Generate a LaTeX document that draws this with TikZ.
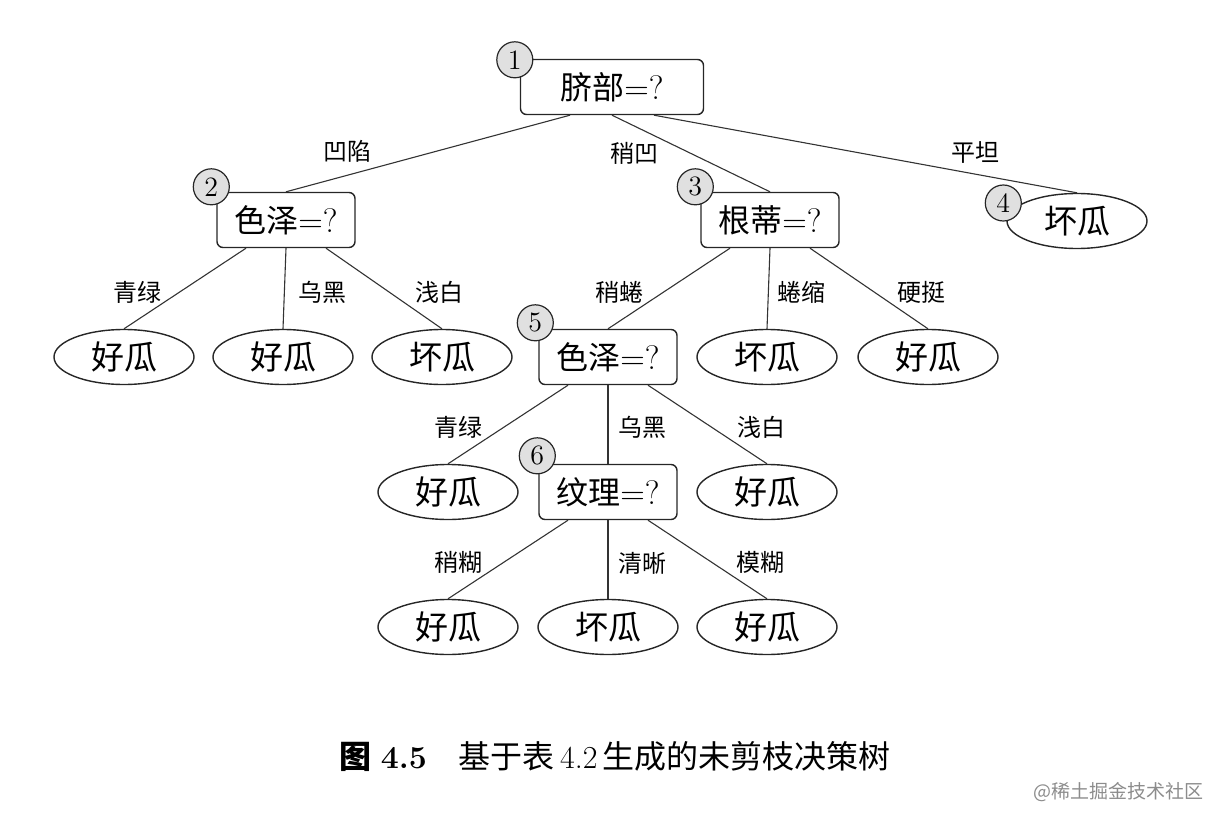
\documentclass[tikz,border=0pt]{standalone}
\usepackage{fontspec}
\newfontfamily\cjk{Noto Sans CJK SC}
\usepackage{tikz}
\usetikzlibrary{positioning, shapes.geometric, calc}

\begin{document}
\begin{tikzpicture}[
    x=0.5pt, y=-0.5pt,
    test/.style={draw=black!85, rounded corners=3pt, line width=0.7pt, minimum height=27.5pt, minimum width=69pt, inner sep=0pt, font=\fontsize{17}{18}\selectfont},
    leaf/.style={ellipse, draw=black!85, line width=0.7pt, minimum height=27.5pt, minimum width=70pt, inner sep=0pt, font=\cjk\fontsize{16.5}{18}\selectfont},
    num/.style={circle, draw=black!85, fill=black!12, line width=0.6pt, minimum size=18pt, inner sep=0pt, font=\fontsize{14}{14}\selectfont},
    lbl/.style={font=\cjk\fontsize{12}{12}\selectfont},
    link/.style={draw=black!80, line width=0.55pt},
]
\useasboundingbox (0,0) rectangle (1220,824);

% internal tests
\node[test, minimum width=91.5pt] (root) at (612,87) {{\cjk\fontsize{16}{18}\selectfont 脐部}=?};
\node[test] (n2) at (286,220) {{\cjk\fontsize{16}{18}\selectfont 色泽}=?};
\node[test] (n3) at (770,220) {{\cjk\fontsize{16}{18}\selectfont 根蒂}=?};
\node[test] (n5) at (608,357) {{\cjk\fontsize{16}{18}\selectfont 色泽}=?};
\node[test] (n6) at (608,492) {{\cjk\fontsize{16}{18}\selectfont 纹理}=?};

% leaves
\node[leaf] (l4) at (1077,221) {坏瓜};
\node[leaf] (l21) at (124,357) {好瓜};
\node[leaf] (l22) at (283,357) {好瓜};
\node[leaf] (l23) at (442,357) {坏瓜};
\node[leaf] (l32) at (767,357) {坏瓜};
\node[leaf] (l33) at (928,357) {好瓜};
\node[leaf] (l51) at (448,492) {好瓜};
\node[leaf] (l53) at (767,492) {好瓜};
\node[leaf] (l61) at (448,627) {好瓜};
\node[leaf] (l62) at (608,627) {坏瓜};
\node[leaf] (l63) at (767,627) {好瓜};

% numbers
\node[num] (c1) at ([shift={(-5,1)}]root.north west) {1};
\node[num] (c2) at ([shift={(-5,-5)}]n2.north west) {2};
\node[num] (c3) at ([shift={(-5,-5)}]n3.north west) {3};
\node[num] (c4) at ([shift={(-3,-18)}]l4.west) {4};
\node[num] (c5) at ([shift={(-3,-6)}]n5.north west) {5};
\node[num] (c6) at ([shift={(-1,-8)}]n6.north west) {6};

% branches
\draw[link] ([xshift=-21pt]root.south) -- (n2.north);
\draw[link] (root.south) -- (n3.north);
\draw[link] ([xshift=21pt]root.south) -- (l4.north);
\draw[link] ([xshift=-20pt]n2.south) -- (l21.north);
\draw[link] (n2.south) -- (l22.north);
\draw[link] ([xshift=20pt]n2.south) -- (l23.north);
\draw[link] ([xshift=-20pt]n3.south) -- (n5.north);
\draw[link] (n3.south) -- (l32.north);
\draw[link] ([xshift=20pt]n3.south) -- (l33.north);
\draw[link] ([xshift=-20pt]n5.south) -- (l51.north);
\draw[link] (n5.south) -- (n6.north);
\draw[link] ([xshift=20pt]n5.south) -- (l53.north);
\draw[link] ([xshift=-20pt]n6.south) -- (l61.north);
\draw[link] (n6.south) -- (l62.north);
\draw[link] ([xshift=20pt]n6.south) -- (l63.north);

% branch labels
\node[lbl] (b1) at (347,151) {凹陷};
\node[lbl] (b2) at (634,153) {稍凹};
\node[lbl] (b3) at (975,153) {平坦};
\node[lbl] (b21) at (137,292) {青绿};
\node[lbl] (b22) at (322,292) {乌黑};
\node[lbl] (b23) at (439,292) {浅白};
\node[lbl] (b31) at (619,292) {稍蜷};
\node[lbl] (b32) at (801,292) {蜷缩};
\node[lbl] (b33) at (921,292) {硬挺};
\node[lbl] (b51) at (458,427) {青绿};
\node[lbl] (b52) at (642,427) {乌黑};
\node[lbl] (b53) at (761,427) {浅白};
\node[lbl] (b61) at (458,563) {稍糊};
\node[lbl] (b62) at (642,563) {清晰};
\node[lbl] (b63) at (760,563) {模糊};

% caption and mark
\node[font=\fontsize{16}{16}\selectfont] (cap) at (615,757) {{\cjk\bfseries 图}\ \textbf{4.5}\quad{\cjk 基于表}\,4.2\,{\cjk 生成的未剪枝决策树}};
\node[font=\cjk\fontsize{9.5}{10}\selectfont, text=black!45] (mark) at (1118,792) {@稀土掘金技术社区};
\end{tikzpicture}
\end{document}
